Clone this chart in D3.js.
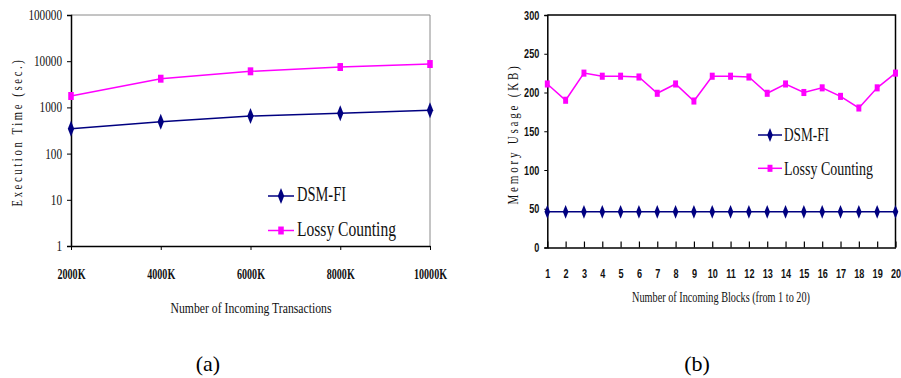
<!DOCTYPE html>
<html>
<head>
<meta charset="utf-8">
<script src="https://cdn.jsdelivr.net/npm/d3@7"></script>
<style>
  html, body { margin: 0; padding: 0; background: #fff; }
  svg { display: block; font-family: "Liberation Serif", "Times New Roman", serif; }
</style>
</head>
<body>
<svg id="chart" width="901" height="378"></svg>
<script>
// ---------- DATA ----------
const txCategories = ["2000K", "4000K", "6000K", "8000K", "10000K"];
const txDsmFi = [346, 490, 651, 745, 865];
const txLossy = [1766, 4180, 6040, 7480, 8690];
const txTicks = [1, 10, 100, 1000, 10000, 100000];

const blockCategories = ["1","2","3","4","5","6","7","8","9","10","11","12","13","14","15","16","17","18","19","20"];
const blockDsmFi = [46,46,46,46,46,46,46,46,46,46,46,46,46,46,46,46,46,46,46,46];
const blockLossy = [211,190,225,221,221,220,199,211,189,221,221,220,199,211,200,206,195,180,206,225];
const blockTicks = [0, 50, 100, 150, 200, 250, 300];

const seriesNames = ["DSM-FI", "Lossy Counting"];
const NAVY = "#000080", MAGENTA = "#ff00ff";

const svg = d3.select("#chart");

function squeeze(sel, f) {
  sel.each(function () {
    const w = this.getComputedTextLength();
    d3.select(this).attr("textLength", w * f).attr("lengthAdjust", "spacingAndGlyphs");
  });
}
function fitTo(sel, w, adj) {
  sel.attr("textLength", w).attr("lengthAdjust", adj || "spacingAndGlyphs");
}
const diamond = (s) => d3.symbol().type(d3.symbolDiamond).size(s);
const square = (s) => d3.symbol().type(d3.symbolSquare).size(s);

// ================= Chart (a) =================
{
  const x = d3.scalePoint().domain(txCategories).range([71, 430]);
  const y = d3.scaleLog().domain([1, 100000]).range([246, 15]);
  const g = svg.append("g");

  g.append("path").attr("d", `M71,15H430V246`).attr("fill", "none").attr("stroke", "#8a8a8a").attr("stroke-width", 1);

  const ya = g.append("g").attr("transform", "translate(71,0)")
    .call(d3.axisLeft(y).tickValues(txTicks).tickFormat(d3.format("d")).tickSize(4).tickPadding(5));
  ya.select(".domain").attr("stroke", "#000").attr("stroke-width", 1.5);
  ya.selectAll("text").attr("font-size", 14).attr("font-family", "Liberation Serif").attr("fill", "#111").call(squeeze, 0.8);

  const xa = g.append("g").attr("transform", "translate(0,246)")
    .call(d3.axisBottom(x).tickSize(4).tickSizeOuter(0));
  xa.select(".domain").attr("stroke", "#000").attr("stroke-width", 1.5);
  xa.selectAll("text").attr("y", 33).attr("dy", 0).attr("font-size", 14).attr("font-family", "Liberation Serif")
    .attr("font-weight", "bold").attr("fill", "#111").call(squeeze, 0.72);

  const line = d3.line().x((d, i) => x(txCategories[i])).y(d => y(d));
  [[txDsmFi, NAVY, diamond(55)], [txLossy, MAGENTA, square(48)]].forEach(([vals, col, sym]) => {
    g.append("path").datum(vals).attr("d", line).attr("fill", "none").attr("stroke", col).attr("stroke-width", 1.5);
    g.selectAll(null).data(vals).enter().append("path")
      .attr("transform", (d, i) => `translate(${x(txCategories[i])},${y(d)}) scale(0.8,1.15)`)
      .attr("d", sym).attr("fill", col);
  });

  const leg = [[196, NAVY, diamond(55), 201, 49], [230.5, MAGENTA, square(48), 236, 99]];
  leg.forEach(([ly, col, sym, by, w], i) => {
    g.append("line").attr("x1", 268).attr("x2", 294).attr("y1", ly).attr("y2", ly).attr("stroke", col).attr("stroke-width", 1.5);
    g.append("path").attr("transform", `translate(281,${ly}) scale(0.8,1.15)`).attr("d", sym).attr("fill", col);
    g.append("text").attr("x", 297).attr("y", by).attr("font-size", 21).attr("fill", "#111")
      .text(seriesNames[i]).call(fitTo, w);
  });

  g.append("text").attr("x", 251).attr("y", 313).attr("text-anchor", "middle").attr("font-size", 15).attr("fill", "#111")
    .text("Number of Incoming Transactions").call(fitTo, 161);
  g.append("text").attr("transform", "translate(22,132) rotate(-90)").attr("text-anchor", "middle").attr("font-size", 14)
    .attr("letter-spacing", 3.5).attr("fill", "#111")
    .text("Execution Time (sec.)").call(fitTo, 149);
  g.append("text").attr("x", 208).attr("y", 371).attr("text-anchor", "middle").attr("font-size", 22).attr("fill", "#000").text("(a)");
}

// ================= Chart (b) =================
{
  const x = d3.scalePoint().domain(blockCategories).range([547.3, 895.5]);
  const y = d3.scaleLinear().domain([0, 300]).range([247.5, 15]);
  const g = svg.append("g");

  g.append("path").attr("d", `M547.3,15H895.5V247.5`).attr("fill", "none").attr("stroke", "#000").attr("stroke-width", 1.5);

  const ya = g.append("g").attr("transform", "translate(547.3,0)")
    .call(d3.axisLeft(y).tickValues(blockTicks).tickSize(3).tickPadding(5));
  ya.select(".domain").attr("stroke", "#000").attr("stroke-width", 1.5);
  ya.selectAll("text").attr("font-size", 13).attr("font-weight", "bold").attr("fill", "#111").call(squeeze, 0.7);

  const xa = g.append("g").attr("transform", "translate(0,247.5)")
    .call(d3.axisBottom(x).tickSize(-6).tickSizeOuter(0));
  xa.select(".domain").attr("stroke", "#000").attr("stroke-width", 1.5);
  xa.selectAll("line").attr("stroke-width", 1.2);
  xa.selectAll("text").attr("y", 30).attr("dy", 0).attr("font-size", 13).attr("font-weight", "bold").attr("fill", "#111").call(squeeze, 0.7);

  const line = d3.line().x((d, i) => x(blockCategories[i])).y(d => y(d));
  [[blockDsmFi, NAVY, diamond(42)], [blockLossy, MAGENTA, square(38)]].forEach(([vals, col, sym]) => {
    g.append("path").datum(vals).attr("d", line).attr("fill", "none").attr("stroke", col).attr("stroke-width", 1.5);
    g.selectAll(null).data(vals).enter().append("path")
      .attr("transform", (d, i) => `translate(${x(blockCategories[i])},${y(d)}) scale(0.8,1.15)`)
      .attr("d", sym).attr("fill", col);
  });

  const leg = [[135, NAVY, diamond(42), 140.5, 45], [168.3, MAGENTA, square(38), 175, 89]];
  leg.forEach(([ly, col, sym, by, w], i) => {
    g.append("line").attr("x1", 758).attr("x2", 782).attr("y1", ly).attr("y2", ly).attr("stroke", col).attr("stroke-width", 1.5);
    g.append("path").attr("transform", `translate(770,${ly}) scale(0.8,1.15)`).attr("d", sym).attr("fill", col);
    g.append("text").attr("x", 784).attr("y", by).attr("font-size", 19).attr("fill", "#111")
      .text(seriesNames[i]).call(fitTo, w);
  });

  g.append("text").attr("x", 721).attr("y", 302).attr("text-anchor", "middle").attr("font-size", 14).attr("fill", "#111")
    .text("Number of Incoming Blocks (from 1 to 20)").call(fitTo, 178);
  g.append("text").attr("transform", "translate(518,134) rotate(-90)").attr("text-anchor", "middle").attr("font-size", 14)
    .attr("letter-spacing", 3.5).attr("fill", "#111")
    .text("Memory Usage (KB)").call(fitTo, 141);
  g.append("text").attr("x", 697).attr("y", 371).attr("text-anchor", "middle").attr("font-size", 22).attr("fill", "#000").text("(b)");
}
</script>
</body>
</html>
